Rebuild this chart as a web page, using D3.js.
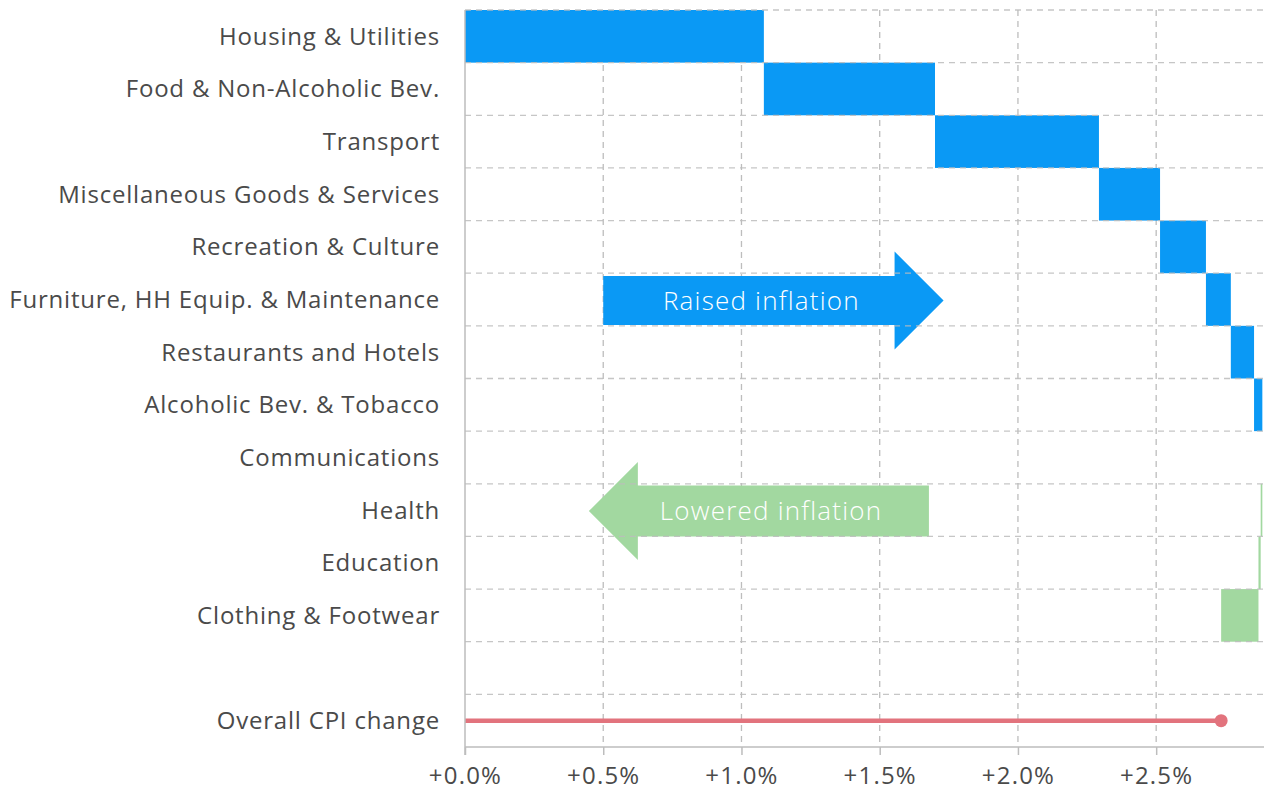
<!DOCTYPE html>
<html>
<head>
<meta charset="utf-8">
<script src="https://cdn.jsdelivr.net/npm/d3@7"></script>
<style>
  body { margin: 0; background: #fff; }
  svg text { font-family: "Open Sans", "Noto Sans", sans-serif; }
</style>
</head>
<body>
<div id="vis"></div>
<script>
// frame
const FRAME_WIDTH = 1264;
const FRAME_HEIGHT = 792;
const MARGINS = {left: 465, right: 0, top: 10, bottom: 45};

// data (percentage point contributions)
const CATEGORIES = ["Housing & Utilities", "Food & Non-Alcoholic Bev.", "Transport",
  "Miscellaneous Goods & Services", "Recreation & Culture",
  "Furniture, HH Equip. & Maintenance", "Restaurants and Hotels",
  "Alcoholic Bev. & Tobacco", "Communications", "Health", "Education",
  "Clothing & Footwear"];
const CONTRIBUTIONS = [1.081, 0.619, 0.593, 0.221, 0.166, 0.090, 0.084, 0.030,
  0.000, -0.006, -0.008, -0.135];
const OVERALL_LABEL = "Overall CPI change";
const OVERALL_VALUE = 2.735;
const X_TICKS = [0, 0.5, 1.0, 1.5, 2.0, 2.5];

const BLUE = "#0a99f5";
const GREEN = "#a2d8a0";
const RED = "#e2737d";
const GRID = "#bdbdbd";
const TEXT = "#4a4a4a";

const VIS_WIDTH = FRAME_WIDTH - MARGINS.left - MARGINS.right;

const svg = d3.select("#vis").append("svg")
  .attr("width", FRAME_WIDTH)
  .attr("height", FRAME_HEIGHT);

// running totals for the waterfall
let running = 0;
const bars = CATEGORIES.map((c, i) => {
  const start = running;
  running += CONTRIBUTIONS[i];
  return {cat: c, start: start, end: running, value: CONTRIBUTIONS[i]};
});

const ROWS = CATEGORIES.concat(["", OVERALL_LABEL]);

const X_SCALE = d3.scaleLinear().domain([0, 2.89]).range([0, VIS_WIDTH]);
const Y_SCALE = d3.scaleBand().domain(d3.range(ROWS.length)).range([0, 737]);

const g = svg.append("g")
  .attr("transform", "translate(" + MARGINS.left + "," + MARGINS.top + ")");

// vertical dashed gridlines
g.selectAll(".vgrid")
  .data(X_TICKS.slice(1))
  .enter().append("line")
    .attr("x1", d => X_SCALE(d)).attr("x2", d => X_SCALE(d))
    .attr("y1", 0).attr("y2", 737)
    .attr("stroke", GRID).attr("stroke-width", 1.3)
    .attr("stroke-dasharray", "6,5");

// bars
g.selectAll(".bar")
  .data(bars)
  .enter().append("rect")
    .attr("x", d => X_SCALE(Math.min(d.start, d.end)))
    .attr("width", d => Math.abs(X_SCALE(d.end) - X_SCALE(d.start)))
    .attr("y", (d, i) => Y_SCALE(i))
    .attr("height", Y_SCALE.bandwidth())
    .attr("fill", d => d.value >= 0 ? BLUE : GREEN);

// arrows (annotation)
function arrow(x0, x1, head, yc, bodyH, headH, color, dir) {
  // dir 1 = pointing right, -1 = left
  const p = d3.path();
  const xb = x1 - dir * head;
  p.moveTo(x0, yc - bodyH / 2);
  p.lineTo(xb, yc - bodyH / 2);
  p.lineTo(xb, yc - headH / 2);
  p.lineTo(x1, yc);
  p.lineTo(xb, yc + headH / 2);
  p.lineTo(xb, yc + bodyH / 2);
  p.lineTo(x0, yc + bodyH / 2);
  p.closePath();
  g.append("path").attr("d", p.toString()).attr("fill", color);
}
const rowRaised = 5, rowLowered = 9;
const yR = Y_SCALE(rowRaised) + Y_SCALE.bandwidth() / 2 + 1;
arrow(X_SCALE(0.5), X_SCALE(1.731), 49, yR, 49, 98, BLUE, 1);
g.append("text")
  .attr("x", X_SCALE(1.072)).attr("y", yR)
  .attr("dy", "0.35em").attr("text-anchor", "middle")
  .attr("fill", "#fff").attr("font-size", 26).attr("font-weight", 300)
  .attr("letter-spacing", 1.2)
  .text("Raised inflation");

const yL = Y_SCALE(rowLowered) + Y_SCALE.bandwidth() / 2 + 1;
arrow(X_SCALE(1.678), X_SCALE(0.448), 49, yL, 51, 98, GREEN, -1);
g.append("text")
  .attr("x", X_SCALE(1.107)).attr("y", yL)
  .attr("dy", "0.35em").attr("text-anchor", "middle")
  .attr("fill", "#fff").attr("font-size", 26).attr("font-weight", 300)
  .attr("letter-spacing", 1.2)
  .text("Lowered inflation");

// horizontal dashed gridlines on row boundaries (drawn on top)
g.selectAll(".hgrid")
  .data(d3.range(ROWS.length))
  .enter().append("line")
    .attr("x1", 0).attr("x2", VIS_WIDTH)
    .attr("y1", d => Y_SCALE(d)).attr("y2", d => Y_SCALE(d))
    .attr("stroke", GRID).attr("stroke-width", 1.3)
    .attr("stroke-dasharray", "6,5")
    .attr("opacity", 0.85);

// overall CPI line
const yO = Y_SCALE(ROWS.length - 1) + Y_SCALE.bandwidth() / 2;
g.append("line")
  .attr("x1", X_SCALE(0)).attr("x2", X_SCALE(OVERALL_VALUE))
  .attr("y1", yO).attr("y2", yO)
  .attr("stroke", RED).attr("stroke-width", 4.5);
g.append("circle")
  .attr("cx", X_SCALE(OVERALL_VALUE)).attr("cy", yO).attr("r", 6.5)
  .attr("fill", RED);

// axes lines
g.append("line")
  .attr("x1", 0).attr("x2", 0).attr("y1", 0).attr("y2", 745)
  .attr("stroke", GRID).attr("stroke-width", 1.5);
g.append("line")
  .attr("x1", 0).attr("x2", VIS_WIDTH).attr("y1", 737).attr("y2", 737)
  .attr("stroke", GRID).attr("stroke-width", 1.5);

// x axis ticks + labels
const xAxis = g.append("g")
  .attr("transform", "translate(0,737)")
  .call(d3.axisBottom(X_SCALE).tickValues(X_TICKS).tickSize(8).tickPadding(12)
    .tickFormat(d => "+" + d3.format(".1f")(d) + "%"));
xAxis.select(".domain").remove();
xAxis.selectAll("line").attr("stroke", GRID).attr("stroke-width", 1.5);
xAxis.selectAll("text")
  .attr("font-size", 24).attr("fill", TEXT)
  .attr("letter-spacing", 1.2)
  .style("font-family", "'Open Sans', 'Noto Sans', sans-serif");

// category labels
g.selectAll(".ylab")
  .data(ROWS)
  .enter().append("text")
    .attr("x", -25)
    .attr("y", (d, i) => Y_SCALE(i) + Y_SCALE.bandwidth() / 2)
    .attr("dy", "0.35em")
    .attr("text-anchor", "end")
    .attr("font-size", 24)
    .attr("letter-spacing", 0.8)
    .attr("fill", TEXT)
    .text(d => d);
</script>
</body>
</html>
